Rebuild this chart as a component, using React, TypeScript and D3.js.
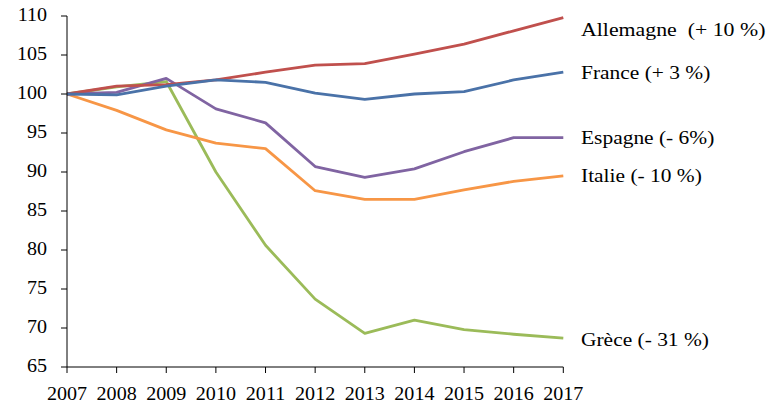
import React from "react";
import * as d3 from "d3";

const years = [2007, 2008, 2009, 2010, 2011, 2012, 2013, 2014, 2015, 2016, 2017];
const allemagne = [100, 101, 101.2, 101.8, 102.8, 103.7, 103.9, 105.1, 106.4, 108.1, 109.8];
const france = [100, 99.9, 101, 101.8, 101.5, 100.1, 99.3, 100, 100.3, 101.8, 102.8];
const espagne = [100, 100.2, 102, 98.1, 96.3, 90.7, 89.3, 90.4, 92.6, 94.4, 94.4];
const italie = [100, 97.9, 95.4, 93.7, 93.0, 87.6, 86.5, 86.5, 87.7, 88.8, 89.5];
const grece = [100, 100.9, 101.6, 90, 80.6, 73.7, 69.3, 71.0, 69.8, 69.2, 68.7];
const yTicks = [65, 70, 75, 80, 85, 90, 95, 100, 105, 110];

const series = [
  { name: "Grèce (- 31 %)", values: grece, color: "#9BBB59", labelY: 346, sx: 1.1 },
  { name: "Italie (- 10 %)", values: italie, color: "#F79646", labelY: 181.7, sx: 1.1 },
  { name: "Espagne (- 6%)", values: espagne, color: "#8064A2", labelY: 144.3, sx: 1.1 },
  { name: "Allemagne\u00A0\u00A0(+ 10 %)", values: allemagne, color: "#C0504D", labelY: 36, sx: 1.12 },
  { name: "France (+ 3 %)", values: france, color: "#4A72A8", labelY: 79.3, sx: 1.1 },
];

const FONT = "'Liberation Serif', 'Times New Roman', serif";

export default function App() {
  const x0 = 67, x1 = 563.3, yTop = 16, yBot = 367;
  const x = d3.scaleLinear().domain([2007, 2017]).range([x0, x1]);
  const y = d3.scaleLinear().domain([65, 110]).range([yBot, yTop]);
  const line = d3.line<number>().x((_, i) => x(years[i])).y((v) => y(v));

  return (
    <svg width={780} height={414} style={{ position: "absolute", left: 0, top: 0, background: "#fff" }}>
      <g fontFamily={FONT} fontSize={19.5} fill="#000">
        {series.map((s) => (
          <path key={s.name} d={line(s.values) || ""} fill="none" stroke={s.color} strokeWidth={2.8} strokeLinejoin="round" />
        ))}
        <line x1={x0} x2={x0} y1={yTop} y2={yBot} stroke="#000" strokeWidth={1} />
        <line x1={x0} x2={x1} y1={yBot} y2={yBot} stroke="#000" strokeWidth={1} />
        {yTicks.map((t) => (
          <g key={t}>
            <line x1={x0 - 6} x2={x0} y1={y(t)} y2={y(t)} stroke="#000" />
            <text transform={`translate(47,${y(t) + 5.3}) scale(1.03,1)`} textAnchor="end">{t}</text>
          </g>
        ))}
        {years.map((yr) => (
          <g key={yr}>
            <line x1={x(yr)} x2={x(yr)} y1={yBot} y2={yBot + 6} stroke="#000" />
            <text transform={`translate(${x(yr)},400) scale(1.03,1)`} textAnchor="middle">{yr}</text>
          </g>
        ))}
        {series.map((s) => (
          <text key={s.name + "l"} transform={`translate(581,${s.labelY}) scale(${s.sx},1)`} style={{ whiteSpace: "pre" }}>{s.name}</text>
        ))}
      </g>
    </svg>
  );
}
